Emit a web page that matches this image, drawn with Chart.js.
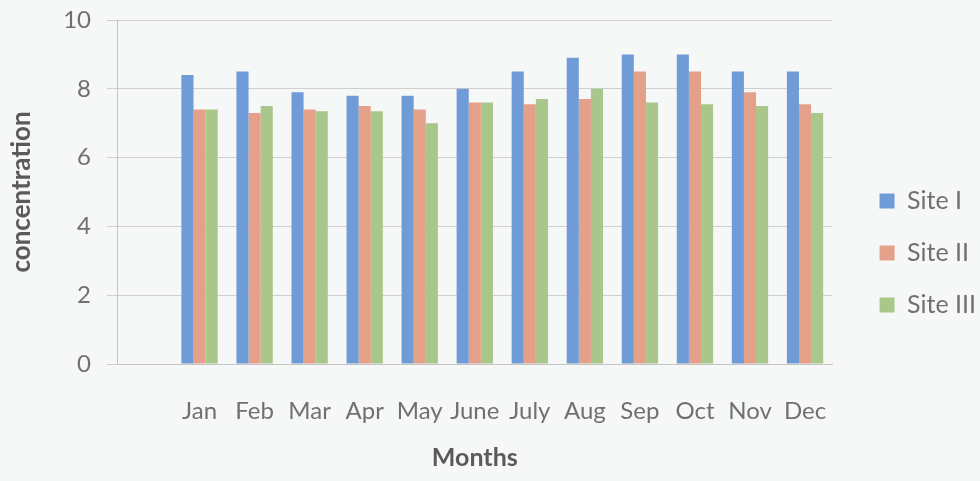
<!DOCTYPE html>
<html>
<head>
<meta charset="utf-8">
<script src="https://cdn.jsdelivr.net/npm/chart.js@4"></script>
<style>
  html, body { margin: 0; padding: 0; background: #f6f8f8; }
  #wrap { width: 980px; height: 481px; position: relative; }
</style>
</head>
<body>
<div id="wrap"><canvas id="chart"></canvas></div>
<script>
// months (the source chart has an empty first category slot)
const months = ['Jan', 'Feb', 'Mar', 'Apr', 'May', 'June', 'July', 'Aug', 'Sep', 'Oct', 'Nov', 'Dec'];

const siteI   = [8.4, 8.5, 7.9, 7.8, 7.8, 8.0, 8.5, 8.9, 9.0, 9.0, 8.5, 8.5];
const siteII  = [7.4, 7.3, 7.4, 7.5, 7.4, 7.6, 7.55, 7.7, 8.5, 8.5, 7.9, 7.55];
const siteIII = [7.4, 7.5, 7.35, 7.35, 7.0, 7.6, 7.7, 8.0, 7.6, 7.55, 7.5, 7.3];

const yTicks = [0, 2, 4, 6, 8, 10];

const labels = [''].concat(months);
const pad = arr => [null].concat(arr);

const font = 'Lato, "Open Sans", sans-serif';
const grey = '#707070';

// push the legend a bit further right of the plot, as in the original
const legendShift = {
  id: 'legendShift',
  afterLayout(chart) {
    chart.legend.left += 20;
    chart.legend.right += 20;
  }
};

new Chart(document.getElementById('chart'), {
  type: 'bar',
  data: {
    labels: labels,
    datasets: [
      { label: 'Site I',   data: pad(siteI),   backgroundColor: '#6f9bd6' },
      { label: 'Site II',  data: pad(siteII),  backgroundColor: '#e5a089' },
      { label: 'Site III', data: pad(siteIII), backgroundColor: '#a9c68b' }
    ]
  },
  plugins: [legendShift],
  options: {
    responsive: true,
    maintainAspectRatio: false,
    animation: false,
    layout: { padding: { top: 1, right: 14, bottom: 0, left: 0 } },
    datasets: {
      bar: { categoryPercentage: 0.66, barPercentage: 1.0 }
    },
    plugins: {
      tooltip: { enabled: false },
      legend: {
        position: 'right',
        title: { display: true, text: ' ', padding: 6, font: { size: 10 } },
        labels: {
          boxWidth: 15,
          boxHeight: 15,
          padding: 27,
          color: grey,
          font: { family: font, size: 25 }
        }
      }
    },
    scales: {
      x: {
        grid: { display: false, drawTicks: false },
        border: { display: true, color: '#c4c4c4', width: 1 },
        ticks: {
          color: grey,
          autoSkip: false,
          maxRotation: 0,
          padding: 33,
          font: { family: font, size: 24 }
        },
        title: {
          display: true,
          text: 'Months',
          color: '#5a5a5a',
          padding: { top: 10, bottom: 8 },
          font: { family: font, size: 25, weight: 'bold' }
        },
        afterFit: s => { s.height = 117; }
      },
      y: {
        min: 0,
        max: 10,
        afterBuildTicks: s => { s.ticks = yTicks.map(v => ({ value: v })); },
        grid: { color: '#cfcfcf', tickLength: 10 },
        border: { display: true, color: '#c4c4c4', width: 1 },
        ticks: {
          color: grey,
          padding: 16,
          font: { family: font, size: 24 }
        },
        title: {
          display: true,
          text: 'concentration',
          color: '#5a5a5a',
          padding: { top: 6, bottom: 4 },
          font: { family: font, size: 26, weight: 'bold' }
        },
        afterFit: s => { s.width = 117; s.paddingTop = 20; s.paddingBottom = 0; }
      }
    }
  }
});
</script>
</body>
</html>
